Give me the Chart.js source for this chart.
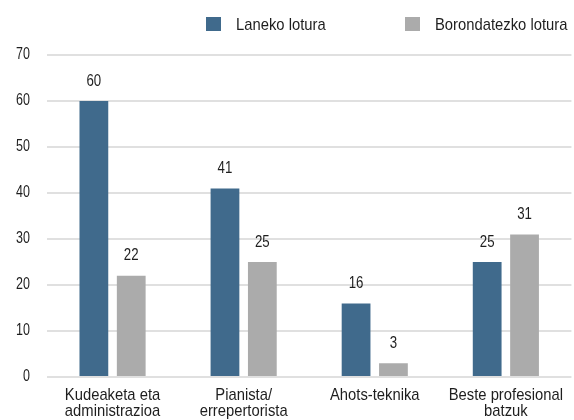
<!DOCTYPE html>
<html>
<head>
<meta charset="utf-8">
<script src="https://cdn.jsdelivr.net/npm/chart.js@4"></script>
<style>
  html, body { margin: 0; padding: 0; background: #ffffff; }
  #wrap { width: 574px; height: 420px; position: relative; }
</style>
</head>
<body>
<div id="wrap"><canvas id="chart" width="574" height="420"></canvas></div>
<script>
const categories = [
  ["Kudeaketa eta", "administrazioa"],
  ["Pianista/", "errepertorista"],
  ["Ahots-teknika"],
  ["Beste profesional", "batzuk"]
];
const seriesNames = ["Laneko lotura", "Borondatezko lotura"];
const lanekoLotura = [60, 41, 16, 25];
const borondatezkoLotura = [22, 25, 3, 31];
const yTicks = [0, 10, 20, 30, 40, 50, 60, 70];

const FONT = "'Liberation Sans', Arial, sans-serif";
const TEXT = '#1e1e1e';
const COLORS = ['#406a8c', '#ababab'];

// Condensed lettering: strings are drawn squeezed horizontally (figures a
// little more than words) and measured the same way so the layout agrees.
const canvas = document.getElementById('chart');
const ctx2d = canvas.getContext('2d');
const squeezeFor = (text) => (/^[0-9]+$/.test(String(text)) ? 0.78 : 0.87);
const baseFillText = ctx2d.fillText.bind(ctx2d);
const baseMeasureText = ctx2d.measureText.bind(ctx2d);
ctx2d.fillText = function (text, x, y) {
  const s = squeezeFor(text);
  this.save();
  this.translate(x, y);
  this.scale(s, 1);
  baseFillText(text, 0, 0);
  this.restore();
};
ctx2d.measureText = function (text) {
  const m = baseMeasureText(text);
  const s = squeezeFor(text);
  return {
    width: m.width * s,
    actualBoundingBoxAscent: m.actualBoundingBoxAscent,
    actualBoundingBoxDescent: m.actualBoundingBoxDescent,
    actualBoundingBoxLeft: m.actualBoundingBoxLeft * s,
    actualBoundingBoxRight: m.actualBoundingBoxRight * s,
    fontBoundingBoxAscent: m.fontBoundingBoxAscent,
    fontBoundingBoxDescent: m.fontBoundingBoxDescent
  };
};

// Value labels above each bar
const valueLabels = {
  id: 'valueLabels',
  afterDatasetsDraw(chart) {
    const ctx = chart.ctx;
    ctx.save();
    ctx.font = '17px ' + FONT;
    ctx.fillStyle = TEXT;
    ctx.textAlign = 'center';
    ctx.textBaseline = 'middle';
    chart.data.datasets.forEach((ds, i) => {
      chart.getDatasetMeta(i).data.forEach((bar, j) => {
        ctx.fillText(String(ds.data[j]), bar.x, bar.y - 20);
      });
    });
    ctx.restore();
  }
};

// Legend row across the top
const topLegend = {
  id: 'topLegend',
  afterDraw(chart) {
    const ctx = chart.ctx;
    const starts = [206, 405];
    ctx.save();
    ctx.font = '17px ' + FONT;
    ctx.textBaseline = 'middle';
    ctx.textAlign = 'left';
    chart.data.datasets.forEach((ds, i) => {
      const x = starts[i];
      ctx.fillStyle = ds.backgroundColor;
      ctx.fillRect(x, 17, 15, 14);
      ctx.fillStyle = TEXT;
      ctx.fillText(ds.label, x + 30, 25);
    });
    ctx.restore();
  }
};

new Chart(ctx2d, {
  type: 'bar',
  data: {
    labels: categories,
    datasets: [
      { label: seriesNames[0], data: lanekoLotura, backgroundColor: COLORS[0] },
      { label: seriesNames[1], data: borondatezkoLotura, backgroundColor: COLORS[1] }
    ]
  },
  options: {
    responsive: false,
    animation: false,
    devicePixelRatio: 1,
    categoryPercentage: 0.57,
    barPercentage: 0.77,
    layout: { padding: { top: 55, left: 0, right: 0, bottom: 0 } },
    plugins: {
      legend: { display: false },
      tooltip: { enabled: false }
    },
    scales: {
      x: {
        grid: { display: false, drawTicks: false },
        border: { display: false },
        ticks: {
          color: TEXT,
          font: { family: FONT, size: 17, lineHeight: '15.5px' },
          padding: 11,
          maxRotation: 0,
          autoSkip: false
        },
        afterFit(scale) { scale.height = 43; }
      },
      y: {
        min: 0,
        max: 70,
        afterBuildTicks(scale) { scale.ticks = yTicks.map(v => ({ value: v })); },
        grid: { color: '#e0e0e0', lineWidth: 2, drawTicks: false },
        border: { display: false },
        ticks: {
          color: TEXT,
          font: { family: FONT, size: 16 },
          padding: 17
        },
        afterFit(scale) { scale.width = 47; }
      }
    }
  },
  plugins: [valueLabels, topLegend]
});
</script>
</body>
</html>
